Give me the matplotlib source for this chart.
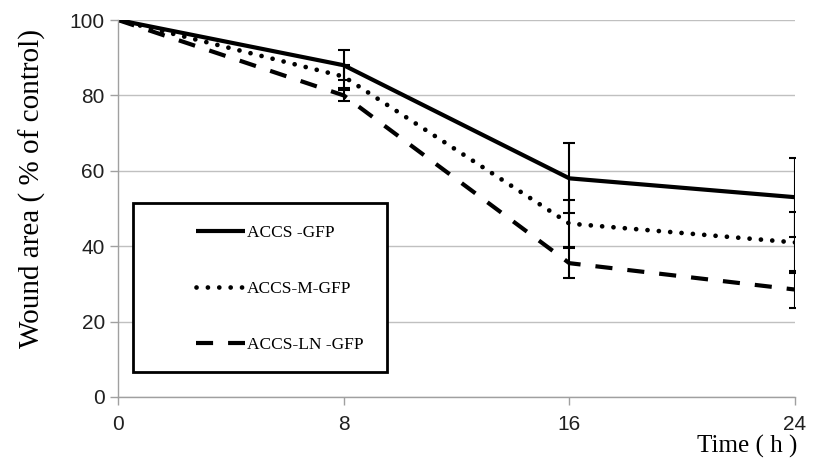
import numpy as np
import matplotlib.pyplot as plt
from matplotlib.patches import Rectangle

# datos
tiempo = [0, 8, 16, 24]
accs_gfp = [100, 88, 58, 53]
accs_m_gfp = [100, 85, 46, 41]
accs_ln_gfp = [100, 80, 35.5, 28.5]
err_gfp = [0, 4, 9.3, 10.5]
err_m = [0, 3, 6.2, 8]
err_ln = [0, 1.5, 4, 5]
etiquetas = ["ACCS -GFP", "ACCS-M-GFP", "ACCS-LN -GFP"]

W, H = 813, 466
fig = plt.figure(figsize=(W / 100, H / 100), dpi=100)
ax = fig.add_axes([118 / W, 1 - 397 / H, (795 - 118) / W, (397 - 20) / H])

serif = "Liberation Serif"
sans = "Liberation Sans"

l1, = ax.plot(tiempo, accs_gfp, color="black", lw=3, solid_capstyle="butt")
l2, = ax.plot(tiempo, accs_m_gfp, color="black", lw=3.4,
              linestyle=(0, (0.01, 2.4)), dash_capstyle="round")
l3, = ax.plot(tiempo, accs_ln_gfp, color="black", lw=3,
              linestyle=(0, (4.1, 3.6)), dash_capstyle="butt")

for y, e in [(accs_gfp, err_gfp), (accs_m_gfp, err_m), (accs_ln_gfp, err_ln)]:
    ax.errorbar(tiempo[1:], y[1:], yerr=e[1:], fmt="none", ecolor="black",
                elinewidth=1.5, capsize=4, capthick=1.5)

ax.set_xlim(0, 24)
ax.set_ylim(0, 100)
ax.set_xticks(tiempo)
ax.set_yticks([0, 20, 40, 60, 80, 100])
ax.grid(axis="y", color="#c0c0c0", lw=1)
ax.set_axisbelow(True)
for s in ["top", "right"]:
    ax.spines[s].set_visible(False)
for s in ["left", "bottom"]:
    ax.spines[s].set_color("#a0a0a0")
    ax.spines[s].set_linewidth(1)
ax.tick_params(axis="both", colors="#a0a0a0", length=6, width=1,
               labelcolor="#202020", labelsize=15)
ax.tick_params(axis="x", pad=7)
for lab in ax.get_xticklabels() + ax.get_yticklabels():
    lab.set_family(sans)

ax.set_ylabel("Wound area ( % of control)", family=serif, fontsize=21)
ax.yaxis.set_label_coords(-(118 - 46) / (795 - 118), (397 - 188) / (397 - 20))
fig.text(797 / W, 1 - 446 / H, "Time ( h )", family=serif, fontsize=18,
         ha="right", va="center")

# recuadro de la leyenda
caja = Rectangle(((133 - 118) / (795 - 118), (397 - 372) / (397 - 20)),
                 (387 - 133) / (795 - 118), (372 - 203) / (397 - 20),
                 transform=ax.transAxes, fill=True, facecolor="white",
                 edgecolor="black", lw=2, zorder=5)
ax.add_patch(caja)
leg = ax.legend([l1, l2, l3], etiquetas, frameon=False,
                loc="upper left",
                bbox_to_anchor=((196 - 118) / (795 - 118), (397 - 225) / (397 - 20)),
                prop={"family": serif, "size": 12.5},
                handlelength=2.8, handletextpad=0.15, labelspacing=2.3,
                borderaxespad=0, borderpad=0)
leg.set_zorder(6)

fig.savefig("out.png", dpi=100)
